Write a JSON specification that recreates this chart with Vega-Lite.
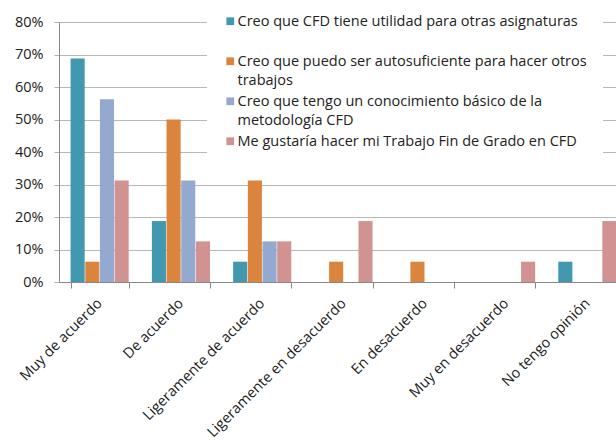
{
  "$schema": "https://vega.github.io/schema/vega-lite/v6.json",
  "width": 557,
  "height": 260,
  "autosize": {"type": "none"},
  "padding": {"left": 59, "top": 22, "right": 0, "bottom": 163},
  "background": "white",
  "config": {
    "font": "Open Sans",
    "view": {"stroke": null},
    "style": {"guide-label": {"lineHeight": 19}}
  },
  "data": {
    "values": [
      {"cat": "Muy de acuerdo", "serie": "A", "v": 0.6875},
      {"cat": "Muy de acuerdo", "serie": "B", "v": 0.0625},
      {"cat": "Muy de acuerdo", "serie": "C", "v": 0.5625},
      {"cat": "Muy de acuerdo", "serie": "D", "v": 0.3125},
      {"cat": "De acuerdo", "serie": "A", "v": 0.1875},
      {"cat": "De acuerdo", "serie": "B", "v": 0.5},
      {"cat": "De acuerdo", "serie": "C", "v": 0.3125},
      {"cat": "De acuerdo", "serie": "D", "v": 0.125},
      {"cat": "Ligeramente de acuerdo", "serie": "A", "v": 0.0625},
      {"cat": "Ligeramente de acuerdo", "serie": "B", "v": 0.3125},
      {"cat": "Ligeramente de acuerdo", "serie": "C", "v": 0.125},
      {"cat": "Ligeramente de acuerdo", "serie": "D", "v": 0.125},
      {"cat": "Ligeramente en desacuerdo", "serie": "A", "v": 0},
      {"cat": "Ligeramente en desacuerdo", "serie": "B", "v": 0.0625},
      {"cat": "Ligeramente en desacuerdo", "serie": "C", "v": 0},
      {"cat": "Ligeramente en desacuerdo", "serie": "D", "v": 0.1875},
      {"cat": "En desacuerdo", "serie": "A", "v": 0},
      {"cat": "En desacuerdo", "serie": "B", "v": 0.0625},
      {"cat": "En desacuerdo", "serie": "C", "v": 0},
      {"cat": "En desacuerdo", "serie": "D", "v": 0},
      {"cat": "Muy en desacuerdo", "serie": "A", "v": 0},
      {"cat": "Muy en desacuerdo", "serie": "B", "v": 0},
      {"cat": "Muy en desacuerdo", "serie": "C", "v": 0},
      {"cat": "Muy en desacuerdo", "serie": "D", "v": 0.0625},
      {"cat": "No tengo opinión", "serie": "A", "v": 0.0625},
      {"cat": "No tengo opinión", "serie": "B", "v": 0},
      {"cat": "No tengo opinión", "serie": "C", "v": 0},
      {"cat": "No tengo opinión", "serie": "D", "v": 0.1875}
    ]
  },
  "mark": {"type": "bar"},
  "encoding": {
    "x": {
      "field": "cat",
      "type": "nominal",
      "sort": ["Muy de acuerdo", "De acuerdo", "Ligeramente de acuerdo", "Ligeramente en desacuerdo", "En desacuerdo", "Muy en desacuerdo", "No tengo opinión"],
      "scale": {"range": [0, 569], "paddingInner": 0.285, "paddingOuter": 0.1425},
      "axis": {
        "title": null,
        "labelAngle": -45,
        "labelAlign": "right",
        "labelBaseline": "middle",
        "labelFontSize": 14.5,
        "labelColor": "#222222",
        "labelPadding": 13,
        "labelOverlap": false,
        "labelLimit": 300,
        "tickBand": "extent",
        "tickSize": 6,
        "tickColor": "#888888",
        "domainColor": "#888888"
      }
    },
    "xOffset": {
      "field": "serie",
      "type": "nominal",
      "sort": ["A", "B", "C", "D"],
      "scale": {"paddingInner": 0.04, "paddingOuter": 0}
    },
    "y": {
      "field": "v",
      "type": "quantitative",
      "scale": {"domain": [0, 0.8], "nice": false},
      "axis": {
        "title": null,
        "values": [0, 0.1, 0.2, 0.3, 0.4, 0.5, 0.6, 0.7, 0.8],
        "format": ".0%",
        "labelFontSize": 14.5,
        "labelColor": "#222222",
        "labelPadding": 11,
        "tickSize": 5,
        "tickColor": "#b0b0b0",
        "gridColor": "#b8b8b8",
        "domainColor": "#888888"
      }
    },
    "color": {
      "field": "serie",
      "type": "nominal",
      "sort": ["A", "B", "C", "D"],
      "scale": {"domain": ["A", "B", "C", "D"], "range": ["#4198AF", "#DB843D", "#93A9CF", "#D19392"]},
      "legend": {
        "title": null,
        "orient": "none",
        "legendX": 148,
        "legendY": -30,
        "padding": 16,
        "symbolType": "M-1,0.55H1V2.55H-1Z",
        "symbolSize": 60,
        "symbolStrokeWidth": 0,
        "labelOffset": 0,
        "labelFontSize": 14.5,
        "labelColor": "#222222",
        "labelLimit": 400,
        "labelBaseline": "top",
        "labelExpr": "datum.value == 'A' ? ['Creo que CFD tiene utilidad para otras asignaturas', ' '] : datum.value == 'B' ? ['Creo que puedo ser autosuficiente para hacer otros', 'trabajos'] : datum.value == 'C' ? ['Creo que tengo un conocimiento básico de la', 'metodología CFD'] : 'Me gustaría hacer mi Trabajo Fin de Grado en CFD'",
        "rowPadding": 0,
        "fillColor": "white"
      }
    }
  }
}
